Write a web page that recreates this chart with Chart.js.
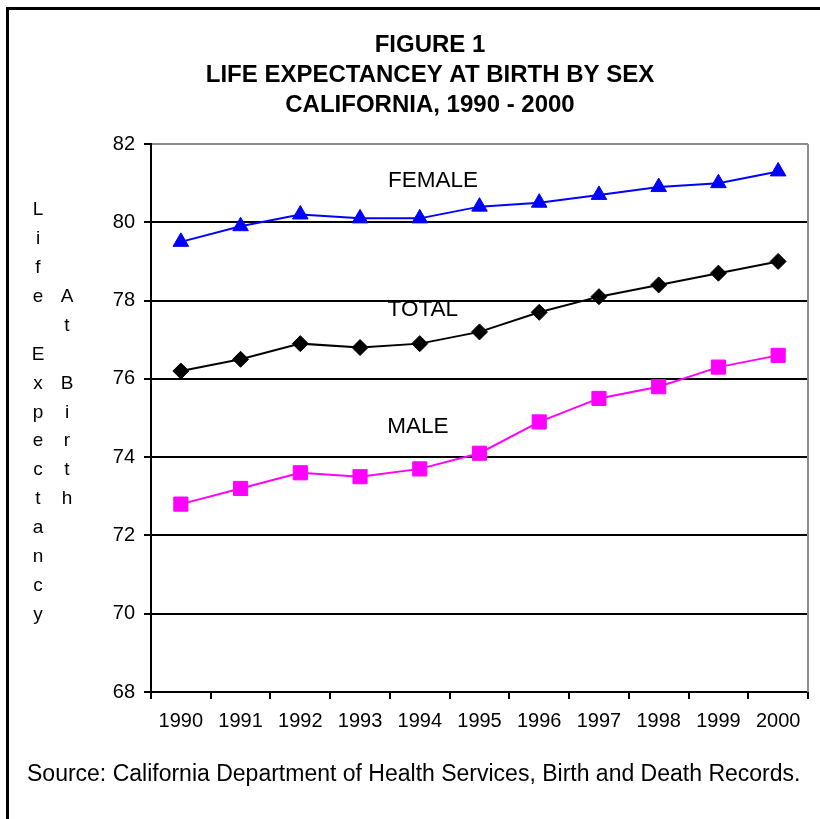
<!DOCTYPE html>
<html>
<head>
<meta charset="utf-8">
<script src="https://cdn.jsdelivr.net/npm/chart.js@4/dist/chart.umd.min.js"></script>
<style>
    html, body { margin: 0; padding: 0; background: #fff; }
    #wrap { width: 820px; height: 819px; }
</style>
</head>
<body>
<div id="wrap"><canvas id="lifeChart" width="820" height="819"></canvas></div>
<script>
// data
const years = ['1990', '1991', '1992', '1993', '1994', '1995', '1996', '1997', '1998', '1999', '2000'];
const female = [79.5, 79.9, 80.2, 80.1, 80.1, 80.4, 80.5, 80.7, 80.9, 81.0, 81.3];
const total = [76.2, 76.5, 76.9, 76.8, 76.9, 77.2, 77.7, 78.1, 78.4, 78.7, 79.0];
const male = [72.8, 73.2, 73.6, 73.5, 73.7, 74.1, 74.9, 75.5, 75.8, 76.3, 76.6];
const yMin = 68;
const yMax = 82;
const yStep = 2;

// series names written inside the plot, anchored in data units (category index, value)
const seriesNames = ['FEMALE', 'TOTAL', 'MALE'];
const nameAtX = [4.22, 4.05, 3.97];
const nameAtY = [81.05, 77.76, 74.77];

const titleLines = ['FIGURE 1', 'LIFE EXPECTANCEY AT BIRTH BY SEX', 'CALIFORNIA, 1990 - 2000'];
const yTitleLeft = 'Life Expectancy';
const yTitleRight = 'At Birth';
const sourceNote = 'Source: California Department of Health Services, Birth and Death Records.';

const FONT = "'Liberation Sans', Arial, sans-serif";

document.addEventListener('DOMContentLoaded', () => {
    const ctx = document.getElementById('lifeChart').getContext('2d');

    // frame, gray plot border, in-plot names, stacked y title, source line
    const decorations = {
        id: 'decorations',
        beforeDatasetsDraw(chart) {
            const { ctx, chartArea } = chart;
            ctx.save();
            ctx.strokeStyle = '#8c8c8c';
            ctx.lineWidth = 2;
            ctx.beginPath();
            ctx.moveTo(chartArea.right, chartArea.top);
            ctx.lineTo(chartArea.right, chartArea.bottom);
            ctx.stroke();
            ctx.restore();
        },
        afterDraw(chart) {
            const { ctx, scales } = chart;
            ctx.save();

            // outer frame (left and top edges only, the rest is cropped)
            ctx.strokeStyle = '#000';
            ctx.lineWidth = 3;
            ctx.beginPath();
            ctx.moveTo(7.5, 819);
            ctx.lineTo(7.5, 8.5);
            ctx.lineTo(820, 8.5);
            ctx.stroke();

            ctx.fillStyle = '#000';
            ctx.textAlign = 'center';
            ctx.textBaseline = 'middle';

            // series names
            ctx.font = '22.5px ' + FONT;
            seriesNames.forEach((name, i) => {
                ctx.fillText(name, scales.x.getPixelForValue(nameAtX[i]), scales.y.getPixelForValue(nameAtY[i]));
            });

            // stacked y title letters
            ctx.font = '19px ' + FONT;
            const step = 28.9;
            const top = 210;
            [...yTitleLeft].forEach((ch, i) => ctx.fillText(ch, 38, top + i * step));
            [...yTitleRight].forEach((ch, i) => ctx.fillText(ch, 67, top + (i + 3) * step));

            // source line
            ctx.font = '23px ' + FONT;
            ctx.textAlign = 'left';
            ctx.fillText(sourceNote, 27, 775);
            ctx.restore();
        }
    };

    new Chart(ctx, {
        type: 'line',
        data: {
            labels: years,
            datasets: [
                {
                    label: 'Female',
                    data: female,
                    borderColor: '#0000ff',
                    backgroundColor: '#0000ff',
                    borderWidth: 2,
                    pointStyle: 'triangle',
                    pointRadius: 9,
                    pointBorderWidth: 1,
                    tension: 0
                },
                {
                    label: 'Total',
                    data: total,
                    borderColor: '#000000',
                    backgroundColor: '#000000',
                    borderWidth: 2,
                    pointStyle: 'rectRot',
                    pointRadius: 8,
                    pointBorderWidth: 1,
                    tension: 0
                },
                {
                    label: 'Male',
                    data: male,
                    borderColor: '#ff00ff',
                    backgroundColor: '#ff00ff',
                    borderWidth: 2,
                    pointStyle: 'rect',
                    pointRadius: 10,
                    pointBorderWidth: 1,
                    tension: 0
                }
            ]
        },
        options: {
            responsive: false,
            animation: false,
            layout: {
                padding: { top: 20, left: 52, right: 12, bottom: 0 }
            },
            plugins: {
                legend: { display: false },
                tooltip: { enabled: false },
                title: {
                    display: true,
                    text: titleLines,
                    color: '#000',
                    font: { family: FONT, size: 24, weight: 'bold', lineHeight: 1.25 },
                    padding: { top: 10, bottom: 24 }
                }
            },
            scales: {
                x: {
                    offset: true,
                    grid: {
                        offset: true,
                        drawOnChartArea: false,
                        drawTicks: true,
                        tickLength: 7,
                        color: '#000',
                        lineWidth: 2
                    },
                    border: { color: '#000', width: 2 },
                    ticks: {
                        color: '#000',
                        font: { family: FONT, size: 20 },
                        padding: 10,
                        maxRotation: 0,
                        autoSkip: false
                    },
                    afterFit(scale) { scale.height = 127; }
                },
                y: {
                    min: yMin,
                    max: yMax,
                    grid: {
                        color: (c) => (c.tick && c.tick.value === yMax ? '#8c8c8c' : '#000'),
                        tickColor: '#000',
                        lineWidth: 2,
                        tickLength: 7
                    },
                    border: { color: '#000', width: 2 },
                    ticks: {
                        stepSize: yStep,
                        color: '#000',
                        font: { family: FONT, size: 20 },
                        padding: 9
                    },
                    afterFit(scale) { scale.width = 99; }
                }
            }
        },
        plugins: [decorations]
    });
});
</script>
</body>
</html>
